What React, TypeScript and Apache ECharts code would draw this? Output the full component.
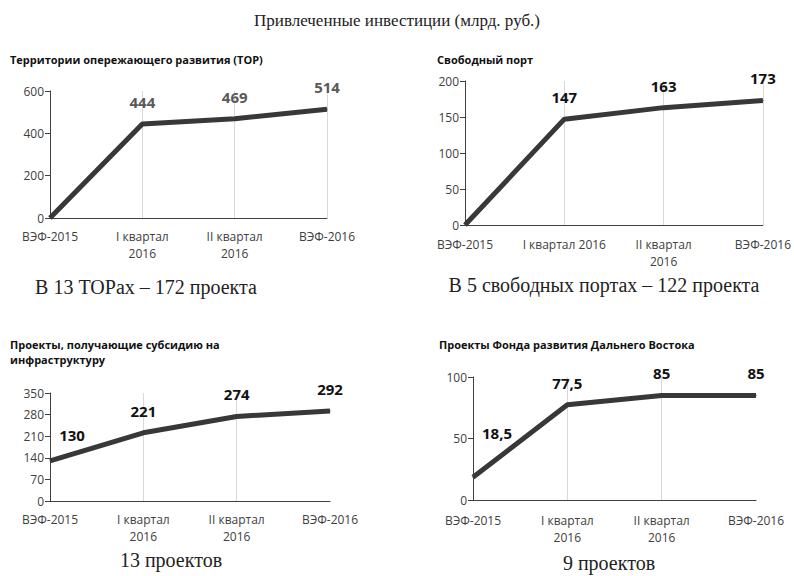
import React, { useEffect, useRef } from "react";
import * as echarts from "echarts";

const mainTitle = "Привлеченные инвестиции (млрд. руб.)";

const panelTitles = [
  "Территории опережающего развития (ТОР)",
  "Свободный порт",
  "Проекты, получающие субсидию на\nинфраструктуру",
  "Проекты Фонда развития Дальнего Востока",
];

const captions = [
  "В 13 ТОРах – 172 проекта",
  "В 5 свободных портах – 122 проекта",
  "13 проектов",
  "9 проектов",
];

const categoriesTwoLine = ["ВЭФ-2015", "I квартал\n2016", "II квартал\n2016", "ВЭФ-2016"];
const categoriesPort = ["ВЭФ-2015", "I квартал 2016", "II квартал\n2016", "ВЭФ-2016"];

const torValues = [0, 444, 469, 514];
const portValues = [0, 147, 163, 173];
const subsidyValues = [130, 221, 274, 292];
const fundValues = [18.5, 77.5, 85, 85];

const yMax = [600, 200, 350, 100];
const yInterval = [200, 50, 70, 50];

const grids = [
  { left: 50, top: 91, width: 277, height: 127 },
  { left: 465, top: 81, width: 298, height: 144 },
  { left: 50, top: 393, width: 280, height: 108 },
  { left: 473, top: 377, width: 283, height: 123 },
];

const App: React.FC = () => {
  const ref = useRef<HTMLDivElement>(null);

  useEffect(() => {
    if (!ref.current) return;
    const chart = echarts.init(ref.current, undefined, { renderer: "svg" });
    const cats = [categoriesTwoLine, categoriesPort, categoriesTwoLine, categoriesTwoLine];
    const values = [torValues, portValues, subsidyValues, fundValues];
    const labelMargins = [10, 11, 10, 12];
    const splitShow = [
      (i: number) => i > 0,
      (i: number) => i > 0,
      (i: number) => i === 1 || i === 2,
      (i: number) => i === 1 || i === 2,
    ];
    const fmt = (v: number) => String(v).replace(".", ",");

    const xAxis = cats.map((c, i) => ({
      type: "category",
      gridIndex: i,
      data: c,
      boundaryGap: false,
      axisLine: { show: true, lineStyle: { color: "#404040", width: 1 } },
      axisTick: { show: false },
      axisLabel: {
        interval: 0,
        color: "#404040",
        fontSize: 12,
        lineHeight: 17,
        fontFamily: "Open Sans",
        margin: labelMargins[i],
      },
      splitLine: {
        show: true,
        interval: (idx: number) => splitShow[i](idx),
        lineStyle: { color: "#d9d9d9", width: 1 },
      },
    }));

    const yAxis = yMax.map((m, i) => ({
      type: "value",
      gridIndex: i,
      min: 0,
      max: m,
      interval: yInterval[i],
      axisLine: { show: true, lineStyle: { color: "#404040", width: 1 } },
      axisTick: { show: true, length: 5, lineStyle: { color: "#404040" } },
      axisLabel: { color: "#404040", fontSize: 12, fontFamily: "Open Sans", margin: 6 },
      splitLine: { show: false },
    }));

    const series = values.map((vals, i) => ({
      type: "line",
      xAxisIndex: i,
      yAxisIndex: i,
      data: vals.map((v, j) => {
        const item: any = { value: v };
        if (i === 2 && j === 0) item.label = { offset: [22, -4] };
        if (i === 3 && j === 0) item.label = { offset: [24, -22] };
        if ((i === 0 || i === 1) && j === 0) item.label = { show: false };
        return item;
      }),
      showSymbol: true,
      symbol: "circle",
      symbolSize: 1,
      itemStyle: { color: "#383838" },
      lineStyle: { color: "#383838", width: 5 },
      label: {
        show: true,
        position: "top",
        distance: 14,
        formatter: (p: any) => fmt(p.value),
        fontSize: 15,
        fontFamily: "Open Sans",
        fontWeight: "bold",
        color: i === 0 ? "#595959" : "#111111",
      },
    }));

    const serif = "Liberation Serif";
    const txt = (x: number, y: number, text: string, opts: any) => ({
      type: "text",
      x,
      y,
      style: { text, verticalAlign: "middle", ...opts },
    });
    const titleStyle = { fontFamily: "Open Sans", fontWeight: "bold", fontSize: 11, fill: "#111" };
    const capStyle = { fontFamily: serif, fontSize: 20, fill: "#222", align: "center" };

    const graphic: any[] = [
      txt(397, 20, mainTitle, { fontFamily: serif, fontSize: 17, fill: "#222", align: "center" }),
      txt(10, 59, panelTitles[0], titleStyle),
      txt(437, 59, panelTitles[1], titleStyle),
      txt(10, 352, panelTitles[2], { ...titleStyle, lineHeight: 15 }),
      txt(439, 344, panelTitles[3], titleStyle),
      txt(146, 287, captions[0], capStyle),
      txt(604, 285, captions[1], capStyle),
      txt(171, 560, captions[2], capStyle),
      txt(609, 563, captions[3], capStyle),
    ];

    chart.setOption({
      animation: false,
      backgroundColor: "#ffffff",
      grid: grids.map((g) => ({ ...g, containLabel: false })),
      xAxis,
      yAxis,
      series,
      graphic,
    } as any);

    return () => chart.dispose();
  }, []);

  return (
    <div
      ref={ref}
      style={{ position: "fixed", left: 0, top: 0, width: 794, height: 576, background: "#fff" }}
    />
  );
};

export default App;
